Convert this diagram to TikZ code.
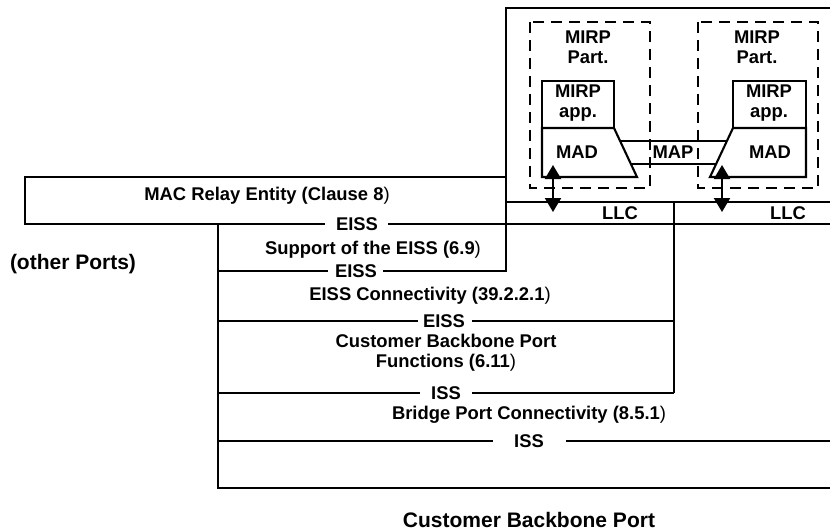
\documentclass[tikz,border=0pt]{standalone}
\usepackage{fontspec}
\setmainfont{Liberation Sans}
\usetikzlibrary{arrows.meta}
\begin{document}
\begin{tikzpicture}[x=1pt,y=-1pt,line width=2.1pt,line cap=butt,
  lbl/.style={font=\fontsize{18.4}{20.3}\selectfont\bfseries,inner sep=0pt,align=center},
  biglbl/.style={font=\fontsize{21}{24}\selectfont\bfseries,inner sep=0pt,align=center},
  dbox/.style={line width=2.1pt,dash pattern=on 11pt off 7pt},
  darr/.style={{Triangle[width=16pt,length=14pt]}-{Triangle[width=16pt,length=14pt]},line width=2.1pt}]
\useasboundingbox (0,0) rectangle (830,531);

% --- outer frame and layers ---
\draw (831,8) -- (506,8) -- (506,271) -- (383,271);
\draw (328,271) -- (218,271);
\draw (506,177) -- (25,177) -- (25,224) -- (325,224);
\draw (388,224) -- (831,224);
\draw (506,202) -- (831,202);
\draw (674,202) -- (674,393);
\draw (218,224) -- (218,488) -- (831,488);
\draw (218,321) -- (418,321);
\draw (472,321) -- (674,321);
\draw (218,393) -- (420,393);
\draw (472,393) -- (674,393);
\draw (218,441) -- (493,441);
\draw (566,441) -- (831,441);

% --- MIRP participants ---
\draw[dbox] (530,22) rectangle (650,188);
\draw[dbox] (698,22) rectangle (818,188);
\draw (542,81) rectangle (614,128);
\draw (733,81) rectangle (806,128);
\draw (542,128) -- (614,128) -- (637,177) -- (542,177) -- cycle;
\draw (733,128) -- (806,128) -- (806,177) -- (710,177) -- cycle;
\draw (620.1,141) -- (726.9,141);
\draw (630.9,164) -- (716.1,164);

% --- labels ---
\node[lbl,anchor=base] (mac) at (267,200) {MAC Relay Entity (Clause 8\textmd{)}};
\node[lbl,anchor=base] (eiss1) at (357,230.5) {EISS};
\node[lbl,anchor=base] (sup) at (373,254.5) {Support of the EISS (6.9\textmd{)}};
\node[lbl,anchor=base] (eiss2) at (356,277.5) {EISS};
\node[biglbl,anchor=base] (oth) at (73,269) {(other Ports)};
\node[lbl,anchor=base] (conn) at (430,300.5) {EISS Connectivity (39.2.2.1\textmd{)}};
\node[lbl,anchor=base] (eiss3) at (444,327.5) {EISS};
\node[lbl] (cbpf) at (446,352.5) {Customer Backbone Port\\Functions (6.11\textmd{)}};
\node[lbl,anchor=base] (iss1) at (446,399.5) {ISS};
\node[lbl,anchor=base] (bpc) at (529,419.5) {Bridge Port Connectivity (8.5.1\textmd{)}};
\node[lbl,anchor=base] (iss2) at (529,447.5) {ISS};
\node[biglbl,anchor=base] (cbp) at (529,527) {Customer Backbone Port};
\node[lbl,anchor=base] (llc1) at (620,219.5) {LLC};
\node[lbl,anchor=base] (llc2) at (788,219.5) {LLC};
\node[lbl] (part1) at (588,47) {MIRP\\Part.};
\node[lbl] (part2) at (757,47) {MIRP\\Part.};
\node[lbl] (app1) at (578,103) {MIRP\\app.};
\node[lbl] (app2) at (769,103) {MIRP\\app.};
\node[lbl,anchor=base] (mad1) at (577,158.5) {MAD};
\node[lbl,anchor=base] (mad2) at (770,158.5) {MAD};
\node[lbl,anchor=base] (map) at (673,158.5) {MAP};

% --- arrows MAD <-> LLC ---
\coordinate (a1t) at (553,165);
\coordinate (a1b) at (553,212);
\coordinate (a2t) at (722,165);
\coordinate (a2b) at (722,212);
\draw[darr] (a1t) -- (a1b);
\draw[darr] (a2t) -- (a2b);
\end{tikzpicture}
\end{document}
